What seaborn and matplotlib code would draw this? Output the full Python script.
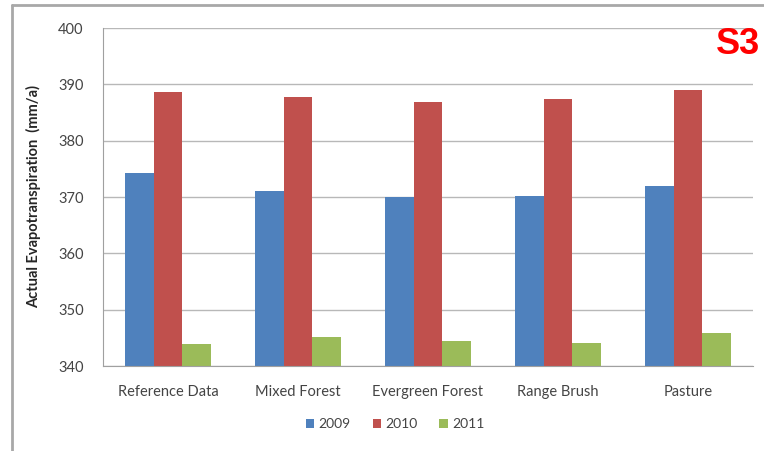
import numpy as np
import pandas as pd
import seaborn as sns
import matplotlib.pyplot as plt
from matplotlib.lines import Line2D
from matplotlib.patches import Patch

categories = ["Reference Data", "Mixed Forest", "Evergreen Forest", "Range Brush", "Pasture"]
years = ["2009", "2010", "2011"]
et_2009 = [374.3, 371.0, 370.0, 370.2, 372.0]
et_2010 = [388.6, 387.7, 386.9, 387.4, 389.0]
et_2011 = [343.9, 345.1, 344.4, 344.1, 345.9]
colors = ["#4F81BD", "#C0504D", "#9BBB59"]

df = pd.DataFrame({
    "category": categories * 3,
    "year": [y for y in years for _ in categories],
    "value": et_2009 + et_2010 + et_2011,
})

sns.set_style("white")
plt.rcParams['font.family'] = ['Lato', 'DejaVu Sans']

fig = plt.figure(figsize=(7.64, 4.51), dpi=100)
ax = fig.add_axes([103 / 764, 1 - 366 / 451, 650 / 764, 338 / 451])

sns.barplot(data=df, x="category", y="value", hue="year", palette=colors,
            width=0.66, saturation=1, linewidth=0, ax=ax, legend=False)

ax.set_ylim(340, 400)
ax.set_xlim(-0.5, 4.5)
ax.set_yticks(np.arange(340, 401, 10))
ax.yaxis.grid(True, color="#b8b8b8", linewidth=1)
ax.set_axisbelow(True)
for s in ["top", "right"]:
    ax.spines[s].set_visible(False)
ax.spines["left"].set_color("#a0a0a0")
ax.spines["bottom"].set_color("#a0a0a0")
ax.tick_params(axis="y", length=4, color="#a0a0a0", labelsize=10.5, labelcolor="#444444", pad=10)
ax.tick_params(axis="x", length=0, labelsize=10.5, labelcolor="#444444", pad=14)
ax.set_xticks(np.arange(-0.5, 5, 1), minor=True)
ax.tick_params(axis="x", which="minor", length=5, color="#a0a0a0")
ax.set_xlabel("")
ax.set_ylabel("Actual Evapotranspiration  (mm/a)", fontsize=10.5, fontweight="bold", labelpad=12)

handles = [Patch(facecolor=c, edgecolor="none") for c in colors]
fig.legend(handles, years, loc="center", bbox_to_anchor=(395 / 764, 1 - 424 / 451), ncol=3,
           frameon=False, fontsize=10, handlelength=0.6, handleheight=0.6,
           handletextpad=0.3, columnspacing=1.6, labelcolor="#444444")

fig.text(760 / 764, 1 - 45 / 451, "S3", color="#ff0000", fontsize=26, fontweight="bold",
         ha="right", va="center", family="Liberation Sans")

# outer chart frame
fig.add_artist(Line2D([12 / 764, 12 / 764], [0, 1 - 5 / 451], transform=fig.transFigure, color="#a8a8a8", lw=2))
fig.add_artist(Line2D([12 / 764, 1], [1 - 5 / 451, 1 - 5 / 451], transform=fig.transFigure, color="#a8a8a8", lw=2))

fig.savefig("out.png", dpi=100)
